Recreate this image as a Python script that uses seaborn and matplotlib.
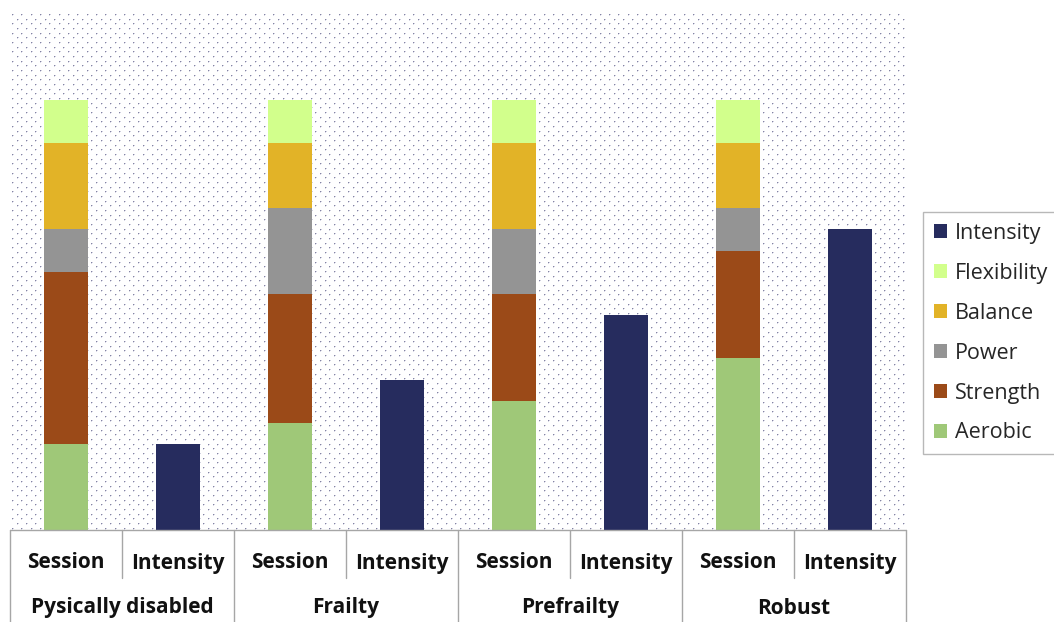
import numpy as np
import pandas as pd
import seaborn as sns
import matplotlib
matplotlib.use("Agg")
import matplotlib.pyplot as plt
import matplotlib.transforms as mtransforms
from matplotlib.patches import Patch

# ---------------- data ----------------
groups = ["Pysically disabled", "Frailty", "Prefrailty", "Robust"]
sub_labels = ["Session", "Intensity"]
components = ["Aerobic", "Strength", "Power", "Balance", "Flexibility"]
aerobic = [2, 2.5, 3, 4]
strength = [4, 3, 2.5, 2.5]
power = [1, 2, 1.5, 1]
balance = [2, 1.5, 2, 1.5]
flexibility = [1, 1, 1, 1]
intensity = [2, 3.5, 5, 7]

colors = {
    "Aerobic": "#9fc878",
    "Strength": "#9b4a18",
    "Power": "#949494",
    "Balance": "#e2b327",
    "Flexibility": "#d2ff8c",
    "Intensity": "#262c5e",
}

sns.set_theme(style="white")
plt.rcParams["font.family"] = ["Open Sans", "DejaVu Sans"]

W, H = 1054, 622
fig = plt.figure(figsize=(W / 100, H / 100), dpi=100)
ax_left, ax_right, ax_top, ax_bot = 10, 906, 12, 530
ax = fig.add_axes([ax_left / W, 1 - ax_bot / H, (ax_right - ax_left) / W, (ax_bot - ax_top) / H])

# dotted background
ph, pw = ax_bot - ax_top, ax_right - ax_left
img = np.ones((ph, pw, 3))
r = 0
yy = 2.0
while yy < ph - 1:
    shift = 4.67 if r % 2 else 0.0
    xx = 2.0 + shift
    while xx < pw - 1:
        iy, ix = int(round(yy)), int(round(xx))
        img[iy, ix] = (0.52, 0.52, 0.64)
        img[iy, ix + 1] = np.minimum(img[iy, ix + 1], (0.82, 0.82, 0.88))
        img[iy + 1, ix] = np.minimum(img[iy + 1, ix], (0.85, 0.85, 0.9))
        xx += 9.33
    yy += 4.67
    r += 1
ax.imshow(img, extent=[0, 1, 0, 1], transform=ax.transAxes, aspect="auto",
          interpolation="nearest", zorder=0)

slots = [f"{g}|{s}" for g in groups for s in sub_labels]
series = {"Aerobic": aerobic, "Strength": strength, "Power": power,
          "Balance": balance, "Flexibility": flexibility}

cum = np.zeros(len(groups))
cums = {}
for c in components:
    cum = cum + np.array(series[c], dtype=float)
    cums[c] = cum.copy()

for c in reversed(components):
    vals = []
    for i in range(len(groups)):
        vals += [cums[c][i], 0.0]
    sns.barplot(x=slots, y=vals, order=slots, color=colors[c], saturation=1,
                width=0.4, errorbar=None, linewidth=0, ax=ax, zorder=2)

ivals = []
for i in range(len(groups)):
    ivals += [0.0, intensity[i]]
sns.barplot(x=slots, y=ivals, order=slots, color=colors["Intensity"], saturation=1,
            width=0.4, errorbar=None, linewidth=0, ax=ax, zorder=2)

ax.set_xlim(-0.5, len(slots) - 0.5)
ax.set_ylim(0, (ax_bot - ax_top) / 43.0)
ax.set_xticks([])
ax.set_yticks([])
ax.set_xlabel("")
ax.set_ylabel("")
for s in ax.spines.values():
    s.set_visible(False)

# category table below
trans = mtransforms.blended_transform_factory(ax.transData, ax.transAxes)
def ay(py):
    return (ax_bot - py) / (ax_bot - ax_top)

line_kw = dict(color="#a6a6a6", lw=1, transform=trans, clip_on=False)
ax.plot([-0.5, len(slots) - 0.5], [0, 0], **line_kw)
for gi in range(len(groups) + 1):
    x = gi * 2 - 0.5
    ax.plot([x, x], [0, ay(640)], **line_kw)
for gi in range(len(groups)):
    x = gi * 2 + 0.5
    ax.plot([x, x], [0, ay(578)], **line_kw)

for i, s in enumerate(slots):
    ax.text(i, ay(563), s.split("|")[1], transform=trans, ha="center", va="center",
            fontsize=15, fontweight="bold", color="#111111")
for gi, g in enumerate(groups):
    ax.text(gi * 2 + 0.5, ay(608), g, transform=trans, ha="center", va="center",
            fontsize=15, fontweight="bold", color="#111111")

# legend
leg_order = ["Intensity", "Flexibility", "Balance", "Power", "Strength", "Aerobic"]
handles = [Patch(facecolor=colors[k], edgecolor="none", label=k) for k in leg_order]
leg = fig.legend(handles=handles, loc="upper left", bbox_to_anchor=(923 / W, 1 - 212 / H),
                 frameon=True, fancybox=False, fontsize=15.5, handlelength=0.62,
                 handleheight=0.62, handletextpad=0.35, labelspacing=0.88,
                 borderpad=0.5, borderaxespad=0)
leg.get_frame().set_edgecolor("#a6a6a6")
leg.get_frame().set_linewidth(1)

fig.savefig("out.png", dpi=100)
